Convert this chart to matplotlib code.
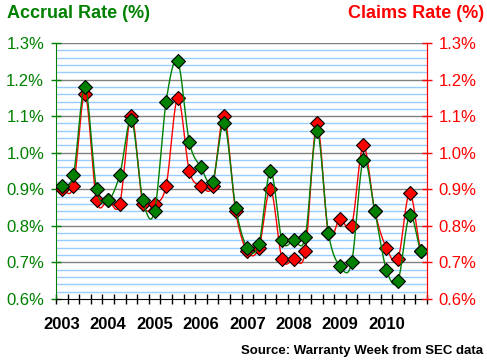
import numpy as np
import matplotlib.pyplot as plt
from matplotlib.ticker import MultipleLocator, FixedLocator, FuncFormatter

# quarterly values, 2003 Q1 .. 2010 Q4
accrual = [0.91, 0.94, 1.18, 0.90, 0.87, 0.94, 1.09, 0.87,
           0.84, 1.14, 1.25, 1.03, 0.96, 0.92, 1.08, 0.85,
           0.74, 0.75, 0.95, 0.76, 0.76, 0.77, 1.06, 0.78,
           0.69, 0.70, 0.98, 0.84, 0.68, 0.65, 0.83, 0.73]
claims = [0.90, 0.91, 1.16, 0.87, 0.87, 0.86, 1.10, 0.86,
          0.86, 0.91, 1.15, 0.95, 0.91, 0.91, 1.10, 0.84,
          0.73, 0.74, 0.90, 0.71, 0.71, 0.73, 1.08, 0.78,
          0.82, 0.80, 1.02, 0.84, 0.74, 0.71, 0.89, 0.73]
years = ['2003', '2004', '2005', '2006', '2007', '2008', '2009', '2010']

GREEN = '#008000'
RED = '#FF0000'
FONT = 'Liberation Sans'


def smooth(y, n=20):
	# catmull-rom curve through the points, like excel's smoothed line
	y = np.asarray(y, dtype=float)
	p = np.concatenate([[y[0]], y, [y[-1]]])
	xs, ys = [], []
	t = np.linspace(0, 1, n, endpoint=False)
	for i in range(len(y) - 1):
		p0, p1, p2, p3 = p[i], p[i + 1], p[i + 2], p[i + 3]
		v = 0.5 * ((2 * p1) + (-p0 + p2) * t + (2 * p0 - 5 * p1 + 4 * p2 - p3) * t ** 2
				   + (-p0 + 3 * p1 - 3 * p2 + p3) * t ** 3)
		xs.extend(i + t)
		ys.extend(v)
	xs.append(len(y) - 1)
	ys.append(y[-1])
	return np.array(xs), np.array(ys)


plt.rcParams['font.family'] = FONT
fig = plt.figure(figsize=(4.87, 3.63), dpi=100)
ax = fig.add_axes([56 / 487, 64 / 363, 371 / 487, 256 / 363])

x = np.arange(len(accrual))
sx, sy = smooth(claims)
ax.plot(sx, sy, color=RED, lw=1.0, zorder=3)
ax.plot(x, claims, ls='none', marker='D', ms=7, mfc=RED, mec='black', mew=0.8, zorder=4)
sx, sy = smooth(accrual)
ax.plot(sx, sy, color=GREEN, lw=1.0, zorder=5)
ax.plot(x, accrual, ls='none', marker='D', ms=7, mfc=GREEN, mec='black', mew=0.8, zorder=6)

ax.set_xlim(-0.5, len(accrual) - 0.5)
ax.set_ylim(0.6, 1.3)

# grid: grey every 0.1, light blue every 0.02
for v in np.arange(0.62, 1.3, 0.02):
	if abs(v * 10 - round(v * 10)) < 1e-6:
		ax.axhline(v, color='#808080', lw=1.0, zorder=1)
	else:
		ax.axhline(v, color='#99CCFF', lw=1.0, zorder=1)
ax.axhline(1.3, color='#808080', lw=1.0, zorder=1)

pct = FuncFormatter(lambda v, p: '%.1f%%' % v)
ax.yaxis.set_major_locator(MultipleLocator(0.1))
ax.yaxis.set_major_formatter(pct)
ax.tick_params(axis='y', direction='inout', length=7, width=1, color=GREEN,
			   labelcolor=GREEN, labelsize=12, pad=5)

ax.xaxis.set_major_locator(FixedLocator(np.arange(0, 32, 4)))
ax.set_xticklabels(years, fontsize=12, fontweight='bold')
ax.xaxis.set_minor_locator(FixedLocator(np.arange(-0.5, 32, 1)))
ax.tick_params(axis='x', which='major', length=0, pad=13)
ax.tick_params(axis='x', which='minor', direction='inout', length=7, width=1, color='black')

ax.spines['left'].set_color(GREEN)
ax.spines['right'].set_color(RED)
ax.spines['top'].set_visible(False)
ax.spines['bottom'].set_color('black')

ax2 = ax.twinx()
ax2.set_ylim(0.6, 1.3)
ax2.yaxis.set_major_locator(MultipleLocator(0.1))
ax2.yaxis.set_major_formatter(pct)
ax2.tick_params(axis='y', direction='inout', length=7, width=1, color=RED,
				labelcolor=RED, labelsize=12, pad=5)
ax2.spines['right'].set_color(RED)
ax2.spines['left'].set_visible(False)
ax2.spines['top'].set_visible(False)
ax2.spines['bottom'].set_visible(False)

fig.text(7 / 487, 1 - 13 / 363, 'Accrual Rate (%)', color=GREEN, fontsize=13,
		 fontweight='bold', ha='left', va='center')
fig.text(484 / 487, 1 - 13 / 363, 'Claims Rate (%)', color=RED, fontsize=13,
		 fontweight='bold', ha='right', va='center')
fig.text(483 / 487, 1 - 351 / 363, 'Source: Warranty Week from SEC data', color='black',
		 fontsize=9.5, fontweight='bold', ha='right', va='center')

fig.savefig('out.png', dpi=100)
